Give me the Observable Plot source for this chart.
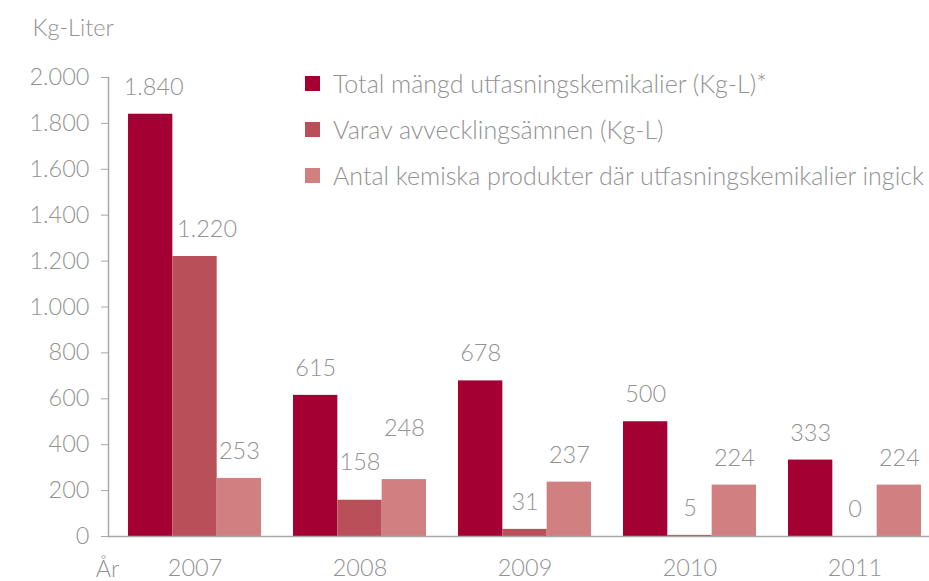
<!DOCTYPE html>
<html><head><meta charset="utf-8">
<script src="https://cdn.jsdelivr.net/npm/d3@7"></script>
<script src="https://cdn.jsdelivr.net/npm/@observablehq/plot@0.6"></script>
<style>
body{margin:0;background:#fff;}
#wrap{position:relative;width:929px;height:581px;font-family:Lato,"Open Sans",sans-serif;font-weight:300;color:#929292;}
#legend{position:absolute;left:305px;top:60px;font-size:25px;}
#legend .row{display:flex;align-items:center;height:46px;white-space:nowrap;}
#legend .sw{width:15px;height:15px;margin-right:13px;flex:none;}
</style></head><body><div id="wrap"></div>
<script>
const years = ["2007","2008","2009","2010","2011"];
const seriesNames = [
  "Total mängd utfasningskemikalier (Kg-L)*",
  "Varav avvecklingsämnen (Kg-L)",
  "Antal kemiska produkter där utfasningskemikalier ingick"
];
const totalKgL = [1840, 615, 678, 500, 333];
const avvecklingKgL = [1220, 158, 31, 5, 0];
const antalProdukter = [253, 248, 237, 224, 224];
const yTicks = [0, 200, 400, 600, 800, 1000, 1200, 1400, 1600, 1800, 2000];
const colors = ["#a50034", "#b94f58", "#d08080"];
const yTitle = "Kg-Liter";
const xTitle = "År";

const W = 929, H = 581, ML = 108, MR = 0, MT = 77, MB = 45;
const FS = 23.5;
const TXT = "#929292";
const xOpts = {type: "band", domain: years, paddingInner: 0.194, paddingOuter: 0.085, align: 0.714, round: false};
const sx = Plot.scale({x: {...xOpts, range: [ML, W - MR]}});
const bw = sx.bandwidth;
const sub = bw / 3;

const sv = d3.formatLocale({decimal: ",", thousands: ".", grouping: [3], currency: ["", " kr"]});
const fmt = sv.format(",d");

const allSeries = [totalKgL, avvecklingKgL, antalProdukter];
const rows = allSeries.map((vals, i) => years.map((y, j) => ({year: y, value: vals[j], s: i})));

// label adjustments (placement of a few labels in the original)
const labelShift = {"2007-1": [12, 0], "2007-0": [3, 0], "2008-1": [0, -11], "2008-2": [0, -24]};

const marks = [];
rows.forEach((data, i) => {
  marks.push(Plot.barY(data, {
    x: "year", y: "value", fill: colors[i],
    insetLeft: i * sub, insetRight: (2 - i) * sub
  }));
});
rows.forEach((data, i) => {
  const groups = new Map();
  data.forEach(d => {
    const k = labelShift[d.year + "-" + i] || [0, 0];
    const key = k.join(",");
    if (!groups.has(key)) groups.set(key, {k, items: []});
    groups.get(key).items.push(d);
  });
  for (const {k, items} of groups.values()) {
    marks.push(Plot.text(items, {
      x: "year", y: "value", text: d => fmt(d.value),
      dx: (i - 1) * sub + k[0], dy: -27 + k[1], lineAnchor: "middle",
      fill: TXT, fontSize: FS
    }));
  }
});
marks.push(Plot.ruleY([0], {stroke: "#a8a8a8", strokeWidth: 1.5}));
marks.push(Plot.frame({anchor: "left", stroke: "#a8a8a8", strokeWidth: 1.5}));
marks.push(Plot.axisY({ticks: yTicks, tickFormat: fmt, tickSize: 7, tickPadding: 12, stroke: "#a8a8a8", fill: TXT, fontSize: FS, label: null}));
marks.push(Plot.axisX({tickSize: 0, tickPadding: 23, fill: TXT, fontSize: FS, label: null}));
marks.push(Plot.text([yTitle], {frameAnchor: "top-left", dx: -76, dy: -49, textAnchor: "start", lineAnchor: "middle", fill: TXT, fontSize: FS}));
marks.push(Plot.text([xTitle], {frameAnchor: "bottom-left", dx: -1, dy: 33, textAnchor: "middle", lineAnchor: "middle", fill: TXT, fontSize: FS}));

const chart = Plot.plot({
  width: W, height: H,
  marginLeft: ML, marginRight: MR, marginTop: MT, marginBottom: MB,
  style: {fontFamily: "Lato, 'Open Sans', sans-serif", fontWeight: 300, fontSize: FS + "px", background: "#fff", overflow: "visible"},
  x: {...xOpts, axis: null},
  y: {domain: [0, 2000], axis: null},
  marks
});
const wrap = document.getElementById("wrap");
wrap.appendChild(chart);

const legend = document.createElement("div");
legend.id = "legend";
seriesNames.forEach((name, i) => {
  const row = document.createElement("div");
  row.className = "row";
  const sw = document.createElement("span");
  sw.className = "sw";
  sw.style.background = colors[i];
  const tx = document.createElement("span");
  tx.textContent = name;
  row.appendChild(sw); row.appendChild(tx);
  legend.appendChild(row);
});
wrap.appendChild(legend);
</script>
</body></html>
